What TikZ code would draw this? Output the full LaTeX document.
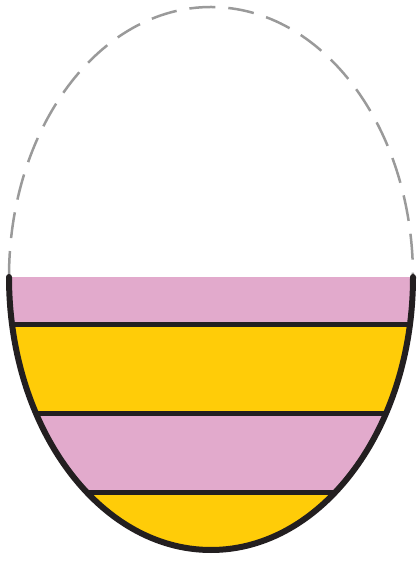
\documentclass[tikz,border=0pt]{standalone}
\begin{document}
\begin{tikzpicture}[x=1pt,y=1pt,
  outline/.style={line width=6pt,color=eggblack,line cap=round},
  stripe/.style={line width=5pt,color=eggblack},
  shell/.style={line width=2.5pt,color=eggdash,dash pattern=on 26pt off 13pt}]
\definecolor{eggpink}{HTML}{E2AACC}
\definecolor{eggyellow}{HTML}{FFCC08}
\definecolor{eggblack}{HTML}{231F20}
\definecolor{eggdash}{HTML}{9A9A9A}
\useasboundingbox (0,0) rectangle (417,564);
% dashed upper half
\draw[shell] (9,287) arc[start angle=180,end angle=0,x radius=202,y radius=270];
% filled lower half
\begin{scope}
  \clip (9,287) arc[start angle=180,end angle=360,x radius=202,y radius=273] -- cycle;
  \fill[eggpink] (0,287) rectangle (417,239.5);
  \fill[eggyellow] (0,239.5) rectangle (417,150);
  \fill[eggpink] (0,150) rectangle (417,71.5);
  \fill[eggyellow] (0,71.5) rectangle (417,0);
  \coordinate (l1) at (0,239.5); \coordinate (r1) at (417,239.5);
  \coordinate (l2) at (0,150);   \coordinate (r2) at (417,150);
  \coordinate (l3) at (0,71.5);  \coordinate (r3) at (417,71.5);
  \draw[stripe] (l1) -- (r1);
  \draw[stripe] (l2) -- (r2);
  \draw[stripe] (l3) -- (r3);
\end{scope}
\draw[outline] (9,287) arc[start angle=180,end angle=360,x radius=202,y radius=273];
\end{tikzpicture}
\end{document}
